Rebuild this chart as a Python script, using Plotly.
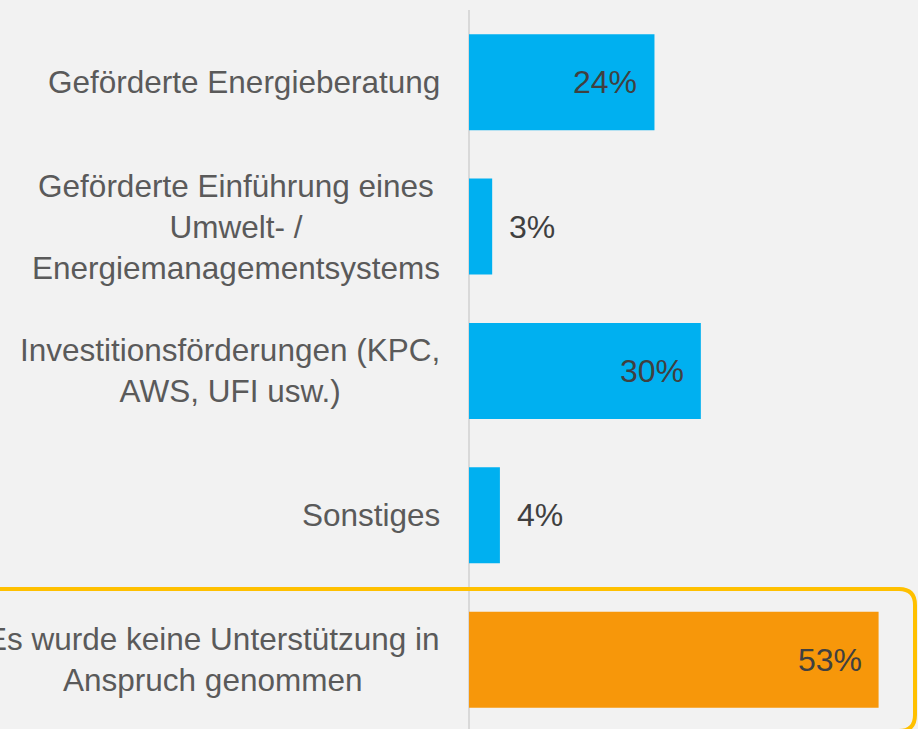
import plotly.graph_objects as go

# data
categories = [
    "Geförderte Energieberatung",
    "Geförderte Einführung eines<br>Umwelt- /<br>Energiemanagementsystems",
    "Investitionsförderungen (KPC,<br>AWS, UFI usw.)",
    "Sonstiges",
    "Es wurde keine Unterstützung in<br>Anspruch genommen",
]
values = [24, 3, 30, 4, 53]
bar_colors = ["#00B0F0", "#00B0F0", "#00B0F0", "#00B0F0", "#F7970A"]

W, H = 918, 729
M_L, M_R, M_T, M_B = 469, 0, 10, 0
FONT = "Arial, 'Liberation Sans', sans-serif"

fig = go.Figure()
fig.add_trace(
    go.Bar(
        y=list(range(len(categories))),
        x=values,
        orientation="h",
        marker=dict(color=bar_colors, line_width=0),
        width=0.665,
        hoverinfo="skip",
    )
)

# category labels (centered multi-line, right edge near the axis)
for i, cat in enumerate(categories):
    fig.add_annotation(
        x=0, xref="paper", y=i, yref="y",
        text=cat, showarrow=False,
        xanchor="right", align="center", xshift=-27,
        font=dict(family=FONT, size=31.5, color="#5A5A5A"),
    )

# value labels: inside near the end for long bars, outside for short ones
for i, v in enumerate(values):
    inside = v >= 10
    fig.add_annotation(
        x=v, xref="x", y=i, yref="y",
        text=f"{v}%", showarrow=False,
        xanchor="right" if inside else "left",
        xshift=-15 if inside else 15,
        font=dict(family=FONT, size=32, color="#404040"),
    )

# rounded highlight frame around last row (pixel coordinates -> paper)
pw, ph = W - M_L - M_R, H - M_T - M_B


def px(xp):
    return (xp - M_L) / pw


def py(yp):
    return (H - M_B - yp) / ph


x0, x1, y0, y1, r = -30, 915, 589, 731, 16
path = (
    f"M {px(x0 + r)},{py(y0)} L {px(x1 - r)},{py(y0)} "
    f"Q {px(x1)},{py(y0)} {px(x1)},{py(y0 + r)} "
    f"L {px(x1)},{py(y1 - r)} Q {px(x1)},{py(y1)} {px(x1 - r)},{py(y1)} "
    f"L {px(x0 + r)},{py(y1)} Q {px(x0)},{py(y1)} {px(x0)},{py(y1 - r)} "
    f"L {px(x0)},{py(y0 + r)} Q {px(x0)},{py(y0)} {px(x0 + r)},{py(y0)} Z"
)
fig.add_shape(
    type="path", path=path, xref="paper", yref="paper",
    line=dict(color="#FFC000", width=4), layer="above",
)

fig.update_layout(
    width=W, height=H,
    margin=dict(l=M_L, r=M_R, t=M_T, b=M_B),
    paper_bgcolor="#F2F2F2",
    plot_bgcolor="#F2F2F2",
    showlegend=False,
    xaxis=dict(
        range=[0, 58.1], showgrid=False, showticklabels=False,
        zeroline=True, zerolinecolor="#D9D9D9", zerolinewidth=2,
        showline=False, fixedrange=True,
    ),
    yaxis=dict(
        range=[4.48, -0.5], showgrid=False, showticklabels=False,
        zeroline=False, showline=False, fixedrange=True,
    ),
)

fig.write_html(
    "out.html",
    config={"displayModeBar": False},
    post_script="document.body.style.margin='0';document.body.style.overflow='hidden';",
)
